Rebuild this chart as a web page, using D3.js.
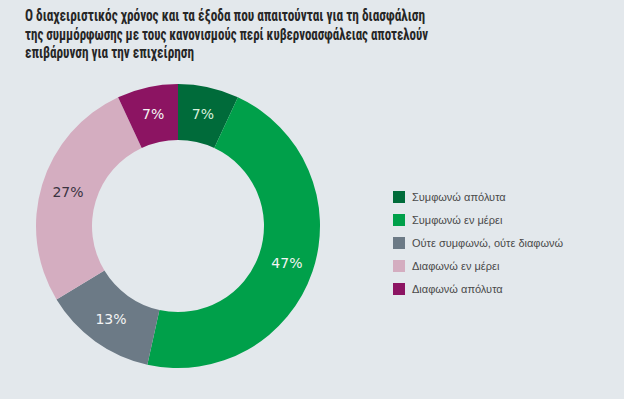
<!DOCTYPE html>
<html lang="el">
<head>
<meta charset="UTF-8">
<title>Donut</title>
<script src="https://d3js.org/d3.v7.min.js"></script>
<style>
  body { margin: 0; background: #e3e8ec; }
  svg { display: block; }
  .title { font-family: "Liberation Sans Narrow", "Roboto Condensed", Arial, sans-serif; font-weight: bold; font-size: 16px; fill: #262626; }
  .legend text { font-family: Arial, "Liberation Sans", sans-serif; font-size: 11px; fill: #4a4a4a; }
  .slice-label { font-family: "DejaVu Sans", Verdana, sans-serif; font-size: 14px; }
</style>
</head>
<body>
<svg width="624" height="399"></svg>
<script>
const categories = ["Συμφωνώ απόλυτα", "Συμφωνώ εν μέρει", "Ούτε συμφωνώ, ούτε διαφωνώ", "Διαφωνώ εν μέρει", "Διαφωνώ απόλυτα"];
const values = [7, 47, 13, 27, 7];
const colors = ["#006b3a", "#00a04a", "#6c7a86", "#d4adc0", "#8c1462"];
const labelColors = ["#d8f0dc", "#f4f4f4", "#f4f4f4", "#3a3340", "#f4f4f4"];
const titleLines = [
    "Ο διαχειριστικός χρόνος και τα έξοδα που απαιτούνται για τη διασφάλιση",
    "της συμμόρφωσης με τους κανονισμούς περί κυβερνοασφάλειας αποτελούν",
    "επιβάρυνση για την επιχείρηση"
];
const titleWidths = [400, 403, 169];

const svg = d3.select("svg");

// title
svg.append("g").selectAll("text")
    .data(titleLines)
    .enter().append("text")
    .attr("class", "title")
    .attr("x", 25)
    .attr("y", (d, i) => 21 + i * 18.5)
    .attr("textLength", (d, i) => titleWidths[i])
    .attr("lengthAdjust", "spacingAndGlyphs")
    .text(d => d);

// donut
const cx = 178, cy = 226, outerR = 142, innerR = 86;
const pie = d3.pie().sort(null).value(d => d);
const arc = d3.arc().innerRadius(innerR).outerRadius(outerR);
const labelArc = d3.arc().innerRadius(115).outerRadius(115);

const g = svg.append("g").attr("transform", `translate(${cx},${cy})`);
const arcs = pie(values);

g.selectAll("path")
    .data(arcs)
    .enter().append("path")
    .attr("d", arc)
    .attr("fill", (d, i) => colors[i]);

g.selectAll("text")
    .data(arcs)
    .enter().append("text")
    .attr("class", "slice-label")
    .attr("transform", d => `translate(${labelArc.centroid(d)})`)
    .attr("text-anchor", "middle")
    .attr("dy", "0.35em")
    .attr("fill", (d, i) => labelColors[i])
    .text(d => d.data + "%");

// legend
const legend = svg.append("g").attr("class", "legend")
    .attr("transform", "translate(393,191)");

const rows = legend.selectAll("g")
    .data(categories)
    .enter().append("g")
    .attr("transform", (d, i) => `translate(0,${i * 23})`);

rows.append("rect")
    .attr("width", 12)
    .attr("height", 12)
    .attr("fill", (d, i) => colors[i]);

rows.append("text")
    .attr("x", 19)
    .attr("y", 6)
    .attr("dy", "0.35em")
    .text(d => d);
</script>
</body>
</html>
